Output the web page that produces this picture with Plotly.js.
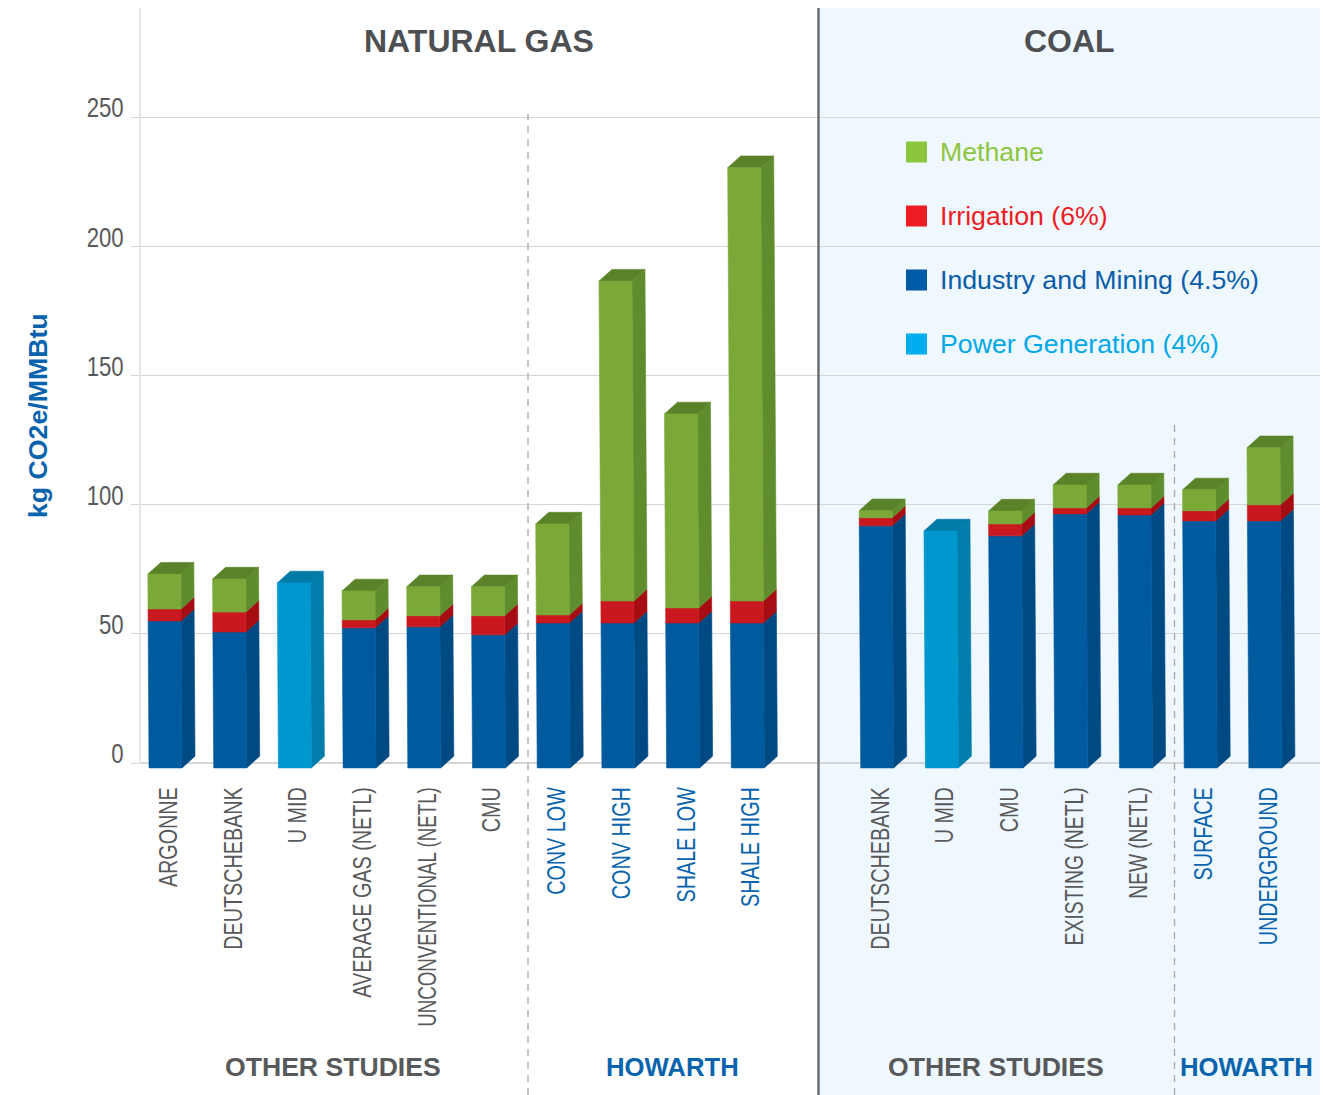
<!DOCTYPE html>
<html>
<head>
<meta charset="utf-8">
<script src="https://cdn.plot.ly/plotly-3.0.1.min.js"></script>
<style>html,body{margin:0;padding:0;background:#fff}#chart{width:1344px;height:1095px}</style>
</head>
<body>
<div id="chart"></div>
<script>
// Lifecycle emissions per study, kg CO2e/MMBtu, split by source.
const slots = [0,1,2,3,4,5,6,7,8,9,11,12,13,14,15,16,17];
const studies = ['ARGONNE','DEUTSCHEBANK','U MID','AVERAGE GAS (NETL)','UNCONVENTIONAL (NETL)','CMU',
  'CONV LOW','CONV HIGH','SHALE LOW','SHALE HIGH',
  'DEUTSCHEBANK','U MID','CMU','EXISTING (NETL)','NEW (NETL)','SURFACE','UNDERGROUND'];
const howarth = [0,0,0,0,0,0,1,1,1,1,0,0,0,0,0,1,1];
const industry   = [56.9,52.6,null,54.2,54.6,51.5,56.1,56.1,56.1,56.1,93.7,null,89.8,98.3,97.9,95.6,95.6];
const power      = [null,null,71.6,null,null,null,null,null,null,null,null,91.7,null,null,null,null,null];
const irrigation = [4.6,7.7,null,3.1,4.3,7.4,3.1,8.5,5.8,8.5,3.1,null,4.6,2.3,2.7,3.9,6.2];
const methane    = [13.5,12.8,null,11.2,11.2,11.2,35.2,123.8,75.1,167.7,2.7,null,5,8.9,8.9,8.1,22.1];
const legendNames = ['Methane','Irrigation (6%)','Industry and Mining (4.5%)','Power Generation (4%)'];
const legendColors = ['#8cc63f','#ed1c24','#005ba6','#00aeef'];
const legendText = ['#8cc63f','#ed1c24','#0a5ca8','#00a7e8'];
const yTicks = [0,50,100,150,200,250];

// Canvas geometry; the plot runs a little past zero so the bar feet stay visible
const W = 1344, H = 1095;
const plot = {l:140, r:1320, t:8, b:770};
const zeroPx = 763;
const pxPerKg = 2.584, pxPerSlot = 64.7, slot0Px = 165.5;
const px = x => (x - plot.l) / (plot.r - plot.l);
const py = y => (plot.b - y) / (plot.b - plot.t);

// Extrusion of the bars, in axis units
const baseKg = -1.9, halfW = 16.5 / pxPerSlot, depthX = 13 / pxPerSlot, depthY = 11.7 / pxPerKg, lean = 0.006 / pxPerSlot * pxPerKg;
const fx = (s, kg) => s - (kg - baseKg) * lean;

// Stacked segments, bottom to top; the segment on top of each bar gets the roof
const stacks = [
  {values: industry,   front:'#005a9e', side:'#004a84', roof:'#004a84'},
  {values: power,      front:'#0097cf', side:'#007dab', roof:'#007aa6'},
  {values: irrigation, front:'#c9181f', side:'#a50d13', roof:'#a50d13'},
  {values: methane,    front:'#7aa938', side:'#5f8d2e', roof:'#5a8329'}
];

const traces = [];
const poly = (xs, ys, color, name) => traces.push({
  type:'scatter', mode:'lines', x:xs, y:ys, fill:'toself', fillcolor:color,
  line:{width:0.6, color:color}, hoverinfo:'skip', showlegend:false, name:name
});
const totals = slots.map(() => baseKg);
const tops = slots.map(() => -1);
stacks.forEach((st, k) => st.values.forEach((v, i) => { if (v !== null) tops[i] = k; }));

stacks.forEach((st, k) => {
  const fxs = [], fys = [], sxs = [], sys = [], rxs = [], rys = [];
  st.values.forEach((v, i) => {
    if (v === null) return;
    const s = slots[i], a = totals[i], b = a + v;
    totals[i] = b;
    const La = fx(s, a) - halfW, Ra = fx(s, a) + halfW, Lb = fx(s, b) - halfW, Rb = fx(s, b) + halfW;
    fxs.push(La, Ra, Rb, Lb, La, null); fys.push(a, a, b, b, a, null);
    sxs.push(Ra, Ra + depthX, Rb + depthX, Rb, Ra, null);
    sys.push(a, a + depthY, b + depthY, b, a, null);
    if (tops[i] === k) {
      rxs.push(Lb, Rb, Rb + depthX, Lb + depthX, Lb, null);
      rys.push(b, b, b + depthY, b + depthY, b, null);
    }
  });
  poly(sxs, sys, st.side, 'side');
  if (rxs.length) poly(rxs, rys, st.roof, 'roof');
  poly(fxs, fys, st.front, 'front');
});

// Panel background, dividers, value axis line and legend swatches
const shapes = [
  {type:'rect', layer:'below', xref:'paper', yref:'paper', x0:px(819.5), x1:px(1320), y0:py(1095), y1:py(8), fillcolor:'#eff8fe', line:{width:0}},
  {type:'line', layer:'below', xref:'paper', yref:'paper', x0:0, x1:0, y0:py(zeroPx), y1:1, line:{color:'#dcdcdc', width:1.4}},
  {type:'line', xref:'paper', yref:'paper', x0:px(818.5), x1:px(818.5), y0:py(1095), y1:py(8), line:{color:'#666b70', width:2.4}},
  {type:'line', xref:'paper', yref:'paper', x0:px(528), x1:px(528), y0:py(1095), y1:py(114), line:{color:'#a8a8a8', width:1.3, dash:'7px,6px'}},
  {type:'line', xref:'paper', yref:'paper', x0:px(1174.5), x1:px(1174.5), y0:py(1095), y1:py(422), line:{color:'#a8a8a8', width:1.3, dash:'7px,6px'}}
];
const sans = '"Liberation Sans", Arial, sans-serif';
const note = (text, x, y, size, color, bold) => ({
  text: bold ? '<b>' + text + '</b>' : text, xref:'paper', yref:'paper', x:px(x), y:py(y),
  xanchor:'center', yanchor:'middle', showarrow:false, font:{family:sans, size:size, color:color}
});
const annotations = [
  note('NATURAL GAS', 479, 41, 32, '#4d4f52', true),
  note('COAL', 1069, 41, 32, '#4d4f52', true),
  note('OTHER STUDIES', 333, 1067, 26.6, '#58595b', true),
  note('HOWARTH', 672, 1067, 25.7, '#0a64ad', true),
  note('OTHER STUDIES', 996, 1067, 26.6, '#58595b', true),
  note('HOWARTH', 1246, 1067, 25.7, '#0a64ad', true),
  Object.assign(note('kg CO2e/MMBtu', 38, 416, 26.7, '#0a64ad', true), {textangle:-90})
];
legendNames.forEach((name, i) => {
  const cy = 152 + 64 * i;
  shapes.push({type:'rect', xref:'paper', yref:'paper', x0:px(906), x1:px(927), y0:py(cy + 10.5), y1:py(cy - 10.5), fillcolor:legendColors[i], line:{width:0}});
  const a = note(name, 937.5, cy + 0.5, 26.7, legendText[i], false);
  a.xanchor = 'left';
  annotations.push(a);
});

const layout = {
  width:W, height:H,
  margin:{l:plot.l, r:W - plot.r, t:plot.t, b:H - plot.b, pad:0},
  paper_bgcolor:'rgba(0,0,0,0)', plot_bgcolor:'rgba(0,0,0,0)',
  showlegend:false, shapes:shapes, annotations:annotations,
  xaxis:{
    range:[(plot.l - slot0Px) / pxPerSlot, (plot.r - slot0Px) / pxPerSlot],
    tickmode:'array', tickvals:slots,
    ticktext:studies.map((s, i) => howarth[i] ? '<span style="color:#0a64ad">' + s + '</span>' : s),
    tickangle:-90, ticks:'', showgrid:false, zeroline:false, showline:false,
    ticklabelstandoff:11, ticklabelshift:3,
    tickfont:{family:sans, size:26, color:'#58595b'}
  },
  yaxis:{
    range:[(zeroPx - plot.b) / pxPerKg, (zeroPx - plot.t) / pxPerKg],
    tickmode:'array', tickvals:yTicks, ticks:'outside', ticklen:8, tickcolor:'#d6d6d6', tickwidth:1.3,
    showgrid:true, gridcolor:'#d6d6d6', gridwidth:1.2, showline:false,
    zeroline:true, zerolinecolor:'#d6d6d6', zerolinewidth:2,
    ticklabelstandoff:2, ticklabelshift:-9,
    tickfont:{family:sans, size:27, color:'#58595b'}
  }
};

// The axis labels are set in a condensed cut of the face; the longest ones tighter still
const tighter = {'UNCONVENTIONAL (NETL)':0.72, 'EXISTING (NETL)':0.745, 'NEW (NETL)':0.735};
const condense = (selector, factor) => document.querySelectorAll(selector).forEach(t => {
  const f = tighter[t.textContent] || factor;
  t.setAttribute('textLength', t.getComputedTextLength() * f);
  t.setAttribute('lengthAdjust', 'spacingAndGlyphs');
});
Plotly.newPlot('chart', traces, layout, {displayModeBar:false, responsive:false}).then(() => {
  condense('.xtick text', 0.76);
  condense('.ytick text', 0.82);
});
</script>
</body>
</html>
